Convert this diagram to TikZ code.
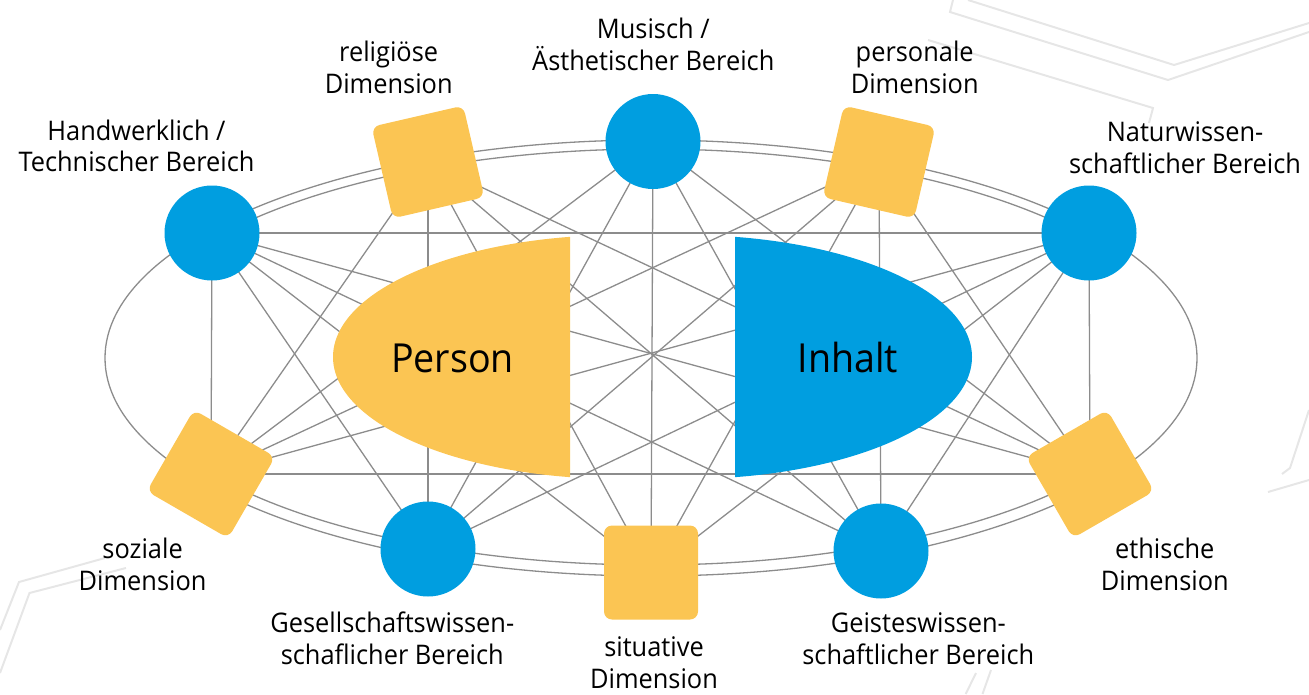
\documentclass[tikz,border=0pt]{standalone}
\usepackage{fontspec}
\setmainfont{Open Sans}[FakeStretch=0.94]
\pgfdeclarelayer{bg}
\pgfsetlayers{bg,main}
\definecolor{cblue}{HTML}{009EE0}
\definecolor{cyel}{HTML}{FBC553}
\definecolor{cline}{HTML}{8C8C8C}
\definecolor{cfaint}{HTML}{E6E6E6}
\begin{document}
\begin{tikzpicture}[x=1pt,y=-1pt,
  circ/.style={circle, fill=cblue, minimum size=95pt, inner sep=0pt},
  sq/.style={rectangle, rounded corners=8pt, fill=cyel, minimum size=94pt, inner sep=0pt},
  lab/.style={align=center, font=\fontsize{27}{31.5}\selectfont, inner sep=0pt, anchor=base},
  big/.style={font=\fontsize{40}{48}\selectfont, inner sep=0pt, anchor=base},
  link/.style={draw=cline, line width=1.3pt},
  faint/.style={draw=cfaint, line width=2pt, line join=miter}]
\useasboundingbox (0,0) rectangle (1309,694);

% Person / Inhalt shapes
\begin{scope}
  \clip (300,200) rectangle (570,500);
  \fill[cyel] (620,357) ellipse [x radius=287pt, y radius=122pt];
\end{scope}
\begin{scope}
  \clip (735,200) rectangle (1000,500);
  \fill[cblue] (685,357) ellipse [x radius=287pt, y radius=122pt];
\end{scope}
\node[big] (person) at (452.5,372) {Person};
\node[big] (inhalt) at (848,372) {Inhalt};

% ring nodes
\node[circ] (mus) at (653,141.5) {};
\node[sq, rotate=-13] (per) at (879,162) {};
\node[circ] (nat) at (1089,233) {};
\node[sq, rotate=30] (eth) at (1090,474) {};
\node[circ] (gei) at (881,551) {};
\node[sq] (sit) at (651,572.5) {};
\node[circ] (ges) at (428,549) {};
\node[sq, rotate=-30] (soz) at (211,474) {};
\node[circ] (hw) at (212,233) {};
\node[sq, rotate=13] (rel) at (428,162) {};

% labels (anchor = baseline of last line)
\node[lab] (lhw) at (136.5,171.7) {Handwerklich /\\Technischer Bereich};
\node[lab] (lrel) at (388.7,93.3) {religiöse\\Dimension};
\node[lab] (lmus) at (653.3,70) {Musisch /\\Ästhetischer Bereich};
\node[lab] (lper) at (914.7,93.3) {personale\\Dimension};
\node[lab] (lnat) at (1185,173.3) {Naturwissen-\\schaftlicher Bereich};
\node[lab] (lsoz) at (142.6,590) {soziale\\Dimension};
\node[lab] (lges) at (392.3,664) {Gesellschaftswissen-\\schaflicher Bereich};
\node[lab] (lsit) at (654,688) {situative\\Dimension};
\node[lab] (lgei) at (918.3,664) {Geisteswissen-\\schaftlicher Bereich};
\node[lab] (leth) at (1164.8,590) {ethische\\Dimension};

\begin{pgfonlayer}{bg}
  % faint background decoration
  \draw[faint] (953,0) -- (950,12) -- (1168,80) -- (1309,32);
  \draw[faint] (968,0) -- (1174,65) -- (1309,23);
  \draw[faint] (928,40) -- (1153,108) -- (1149,123);
  \draw[faint] (1309,410) -- (1290,468) -- (1282,474);
  \draw[faint] (1268,492) -- (1309,480);
  \draw[faint] (126,568) -- (29.5,593) -- (0,673);
  \draw[faint] (105,558) -- (19,582) -- (0,630);
  \draw[faint] (965.7,694) -- (976,673);
  \draw[faint] (982.5,694) -- (991,670);
  % ellipses
  \draw[link] (651,358) ellipse [x radius=546pt, y radius=218pt];
  \draw[link] plot[domain=34:146, samples=90] ({651+532*cos(\x)},{357-208*sin(\x)});
  \draw[link] plot[domain=214:326, samples=90] ({651+532*cos(\x)},{357-208*sin(\x)});
  % connections
  \foreach \a in {hw,rel,mus,per,nat}
    \foreach \b in {soz,ges,sit,gei,eth}
      \draw[link] (\a.center) -- (\b.center);
  \draw[link] (hw.center) -- (nat.center);
  \draw[link] (soz.center) -- (eth.center);
\end{pgfonlayer}
\end{tikzpicture}
\end{document}
